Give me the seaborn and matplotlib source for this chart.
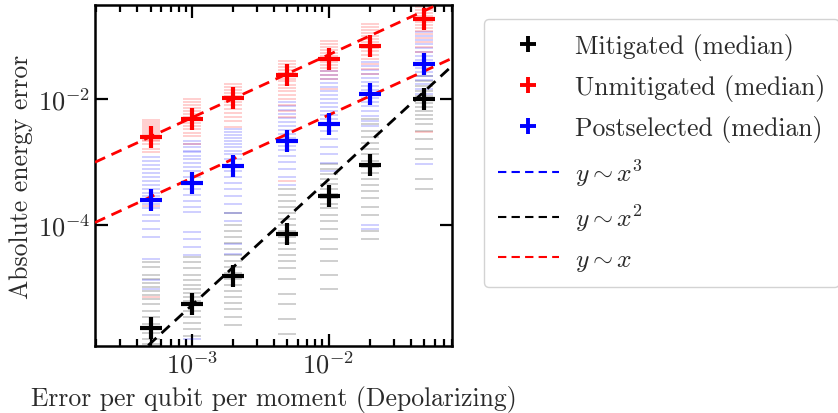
import numpy as np
import pandas as pd
import matplotlib
matplotlib.use("Agg")
import matplotlib.pyplot as plt
import seaborn as sns
from matplotlib.ticker import NullLocator, LogLocator, FixedLocator

# ---------------- data ----------------
error_rates = [5e-4, 1e-3, 2e-3, 5e-3, 1e-2, 2e-2, 5e-2]

mitigated_median = [2.3e-6, 5.4e-6, 1.5e-5, 7.1e-5, 2.8e-4, 8.7e-4, 1.0e-2]
unmitigated_median = [2.5e-3, 4.7e-3, 1.02e-2, 2.4e-2, 4.3e-2, 6.9e-2, 1.83e-1]
postselected_median = [2.47e-4, 4.5e-4, 8.4e-4, 2.17e-3, 4.0e-3, 1.17e-2, 3.52e-2]

mitigated_samples = [
    [2.5e-5, 2.1e-5, 1.6e-5, 1.36e-5, 1.18e-5, 1.0e-5, 8.8e-6, 7.6e-6, 6.5e-6,
     5.4e-6, 4.2e-6, 3.4e-6, 2.6e-6, 1.9e-6, 1.5e-6, 1.25e-6],
    [3.1e-5, 2.5e-5, 2.0e-5, 1.6e-5, 1.3e-5, 1.1e-5, 9.4e-6, 8.1e-6, 7.0e-6,
     6.1e-6, 5.2e-6, 4.2e-6, 3.4e-6, 2.7e-6, 2.2e-6, 1.7e-6],
    [1.5e-4, 1.0e-4, 7.9e-5, 6.3e-5, 5.0e-5, 4.1e-5, 3.3e-5, 2.6e-5, 2.1e-5,
     1.7e-5, 1.36e-5, 1.1e-5, 8.8e-6, 7.0e-6, 5.6e-6, 4.5e-6, 3.4e-6, 2.5e-6],
    [3.7e-4, 3.0e-4, 2.4e-4, 1.9e-4, 1.5e-4, 1.23e-4, 9.8e-5, 7.9e-5, 6.3e-5,
     5.1e-5, 4.1e-5, 3.3e-5, 2.6e-5, 2.0e-5, 1.36e-5, 7.9e-6, 5.4e-6, 3.1e-6, 1.8e-6],
    [9.3e-4, 7.7e-4, 6.4e-4, 5.3e-4, 4.4e-4, 3.7e-4, 3.1e-4, 2.6e-4, 2.1e-4,
     1.8e-4, 1.4e-4, 1.15e-4, 8.5e-5, 5.9e-5, 4.1e-5, 2.6e-5, 1.6e-5, 9.4e-6],
    [4.8e-3, 3.9e-3, 3.1e-3, 2.5e-3, 2.0e-3, 1.6e-3, 1.3e-3, 1.03e-3, 8.3e-4,
     6.6e-4, 5.3e-4, 4.3e-4, 3.4e-4, 2.6e-4, 1.9e-4, 1.4e-4, 7.9e-5, 5.9e-5],
    [2.3e-2, 1.9e-2, 1.6e-2, 1.34e-2, 1.12e-2, 1.0e-2, 8.6e-3, 7.4e-3, 6.4e-3,
     5.5e-3, 4.8e-3, 4.0e-3, 3.1e-3, 2.3e-3, 1.6e-3, 1.1e-3, 5.3e-4, 3.7e-4],
]

unmitigated_samples = [
    [4.6e-3, 4.3e-3, 4.0e-3, 3.7e-3, 3.4e-3, 3.2e-3, 3.0e-3, 2.8e-3, 2.6e-3,
     2.4e-3, 2.2e-3, 2.1e-3, 1.9e-3, 1.6e-3, 1.4e-3, 2.0e-4, 7.0e-6],
    [1.0e-2, 9.0e-3, 8.0e-3, 7.2e-3, 6.4e-3, 5.8e-3, 5.2e-3, 4.6e-3, 4.1e-3,
     3.7e-3, 3.3e-3, 2.9e-3, 2.6e-3, 1.9e-3],
    [1.73e-2, 1.55e-2, 1.39e-2, 1.25e-2, 1.12e-2, 1.0e-2, 9.0e-3, 8.0e-3, 6.9e-3,
     6.0e-3, 5.2e-3, 4.5e-3, 3.6e-3],
    [4.0e-2, 3.6e-2, 3.2e-2, 2.9e-2, 2.6e-2, 2.3e-2, 2.1e-2, 1.9e-2, 1.67e-2,
     1.5e-2, 1.34e-2, 1.16e-2, 1.0e-2, 8.0e-3, 6.4e-3, 5.2e-3, 5.0e-4],
    [8.4e-2, 7.5e-2, 6.7e-2, 6.0e-2, 5.4e-2, 4.8e-2, 4.3e-2, 3.9e-2, 3.5e-2,
     3.1e-2, 2.8e-2, 2.4e-2, 2.1e-2, 1.44e-2],
    [1.57e-1, 1.41e-1, 1.26e-1, 1.13e-1, 1.01e-1, 9.0e-2, 8.1e-2, 7.2e-2, 6.5e-2,
     5.8e-2, 5.0e-2, 4.3e-2, 3.6e-2, 3.0e-2, 2.5e-2],
    [2.93e-1, 2.62e-1, 2.34e-1, 2.09e-1, 1.88e-1, 1.68e-1, 1.5e-1, 1.35e-1, 1.2e-1,
     1.08e-1, 9.4e-2, 8.1e-2, 6.7e-2, 5.6e-2, 3.0e-3],
]

postselected_samples = [
    [1.2e-3, 1.03e-3, 8.9e-4, 7.7e-4, 6.7e-4, 5.8e-4, 5.0e-4, 4.3e-4, 3.7e-4,
     3.2e-4, 2.8e-4, 2.4e-4, 2.1e-4, 1.8e-4, 1.4e-4, 1.15e-4, 8.5e-5, 6.3e-5,
     2.8e-5, 1.3e-5, 9.4e-6],
    [2.1e-3, 1.9e-3, 1.7e-3, 1.5e-3, 1.4e-3, 1.24e-3, 1.1e-3, 9.6e-4, 8.3e-4,
     7.1e-4, 5.7e-4, 4.6e-4, 3.7e-4, 3.0e-4, 2.4e-4, 1.9e-4, 1.6e-4, 7.6e-5,
     5.9e-5, 4.4e-5, 3.3e-5, 1.5e-6],
    [3.3e-3, 3.0e-3, 2.7e-3, 2.4e-3, 2.1e-3, 1.9e-3, 1.7e-3, 1.5e-3, 1.3e-3,
     1.1e-3, 8.9e-4, 7.1e-4, 5.7e-4, 4.6e-4, 3.7e-4, 2.8e-4, 2.1e-4, 1.5e-4,
     1.15e-4, 4.9e-5, 3.4e-5],
    [9.0e-3, 7.7e-3, 6.7e-3, 5.8e-3, 5.0e-3, 4.3e-3, 3.7e-3, 3.2e-3, 2.8e-3,
     2.4e-3, 2.1e-3, 1.8e-3, 1.54e-3, 1.24e-3, 1.0e-3, 7.7e-4, 5.7e-4, 4.3e-4],
    [2.8e-2, 2.4e-2, 2.1e-2, 1.8e-2, 1.55e-2, 1.34e-2, 1.16e-2, 1.0e-2, 8.6e-3,
     7.4e-3, 6.4e-3, 5.5e-3, 4.8e-3, 3.9e-3, 3.1e-3, 2.3e-3, 1.7e-3, 1.3e-3,
     9.6e-4, 7.1e-4],
    [3.9e-2, 3.35e-2, 2.9e-2, 2.5e-2, 2.16e-2, 1.87e-2, 1.6e-2, 1.39e-2, 1.2e-2,
     1.04e-2, 9.0e-3, 7.7e-3, 6.4e-3, 5.4e-3, 4.5e-3, 3.7e-3, 1.0e-4, 8.5e-5],
    [1.17e-1, 1.01e-1, 8.7e-2, 7.5e-2, 6.5e-2, 5.6e-2, 4.8e-2, 4.2e-2, 3.6e-2,
     3.1e-2, 2.7e-2, 2.3e-2, 2.0e-2, 1.73e-2, 1.44e-2, 1.2e-2, 9.2e-4],
]

# reference scaling lines coefficients
fit_upper_coef, fit_lower_coef, fit_quad_coef = 5.0, 0.55, 5.2

series_labels = ["Mitigated (median)", "Unmitigated (median)", "Postselected (median)"]
line_labels = [r"$y \sim x^3$", r"$y \sim x^2$", r"$y \sim x$"]

xlim = (1.96e-4, 8.0e-2)
ylim = (1.17e-6, 3.1e-1)

# ---------------- style ----------------
sns.set_style("ticks")
plt.rcParams["font.family"] = ["serif"]
plt.rcParams["font.serif"] = ["cmr10", "DejaVu Serif"]
plt.rcParams["mathtext.fontset"] = "cm"
plt.rcParams["axes.formatter.use_mathtext"] = True
plt.rcParams["axes.unicode_minus"] = False

TEXT = "#2a2a2a"

fig = plt.figure(figsize=(8.38, 4.14), dpi=100)
ax = fig.add_axes([0.1134, 0.1618, 0.4260, 0.8237])


def long_frame(samples):
    rows = []
    for xv, vals in zip(error_rates, samples):
        for v in vals:
            rows.append((xv, v))
    return pd.DataFrame(rows, columns=["x", "y"])


sample_sets = [
    (mitigated_samples, "black"),
    (postselected_samples, "blue"),
    (unmitigated_samples, "red"),
]
for samples, col in sample_sets:
    df = long_frame(samples)
    sns.scatterplot(data=df, x="x", y="y", marker="_", s=150, linewidth=1.2,
                    color=col, alpha=0.22, ax=ax, zorder=2, legend=False)

# scaling lines
xx = np.array(xlim)
fit_df = pd.DataFrame({
    "x": np.concatenate([xx, xx, xx]),
    "y": np.concatenate([fit_upper_coef * xx, fit_lower_coef * xx, fit_quad_coef * xx ** 2]),
    "g": ["u", "u", "l", "l", "q", "q"],
})
for g, col in [("u", "red"), ("l", "red"), ("q", "black")]:
    sub = fit_df[fit_df["g"] == g]
    sns.lineplot(data=sub, x="x", y="y", color=col, linestyle=(0, (4, 2.5)),
                 linewidth=2, ax=ax, zorder=3, legend=False)

# medians
handles = []
for med, col, lab in zip([mitigated_median, unmitigated_median, postselected_median],
                         ["black", "red", "blue"], series_labels):
    mdf = pd.DataFrame({"x": error_rates, "y": med})
    sns.scatterplot(data=mdf, x="x", y="y", marker="+", s=230, linewidth=3,
                    color=col, ax=ax, zorder=5, legend=False)
    handles.append(plt.Line2D([], [], color=col, marker="+", linestyle="none",
                              markersize=12, markeredgewidth=2.8, label=lab))
for col, lab in zip(["blue", "black", "red"], line_labels):
    handles.append(plt.Line2D([], [], color=col, linestyle=(0, (4, 2.5)),
                              linewidth=1.5, label=lab))

ax.set_xscale("log")
ax.set_yscale("log")
ax.set_xlim(*xlim)
ax.set_ylim(*ylim)

ax.yaxis.set_major_locator(FixedLocator([1e-6, 1e-4, 1e-2]))
ax.yaxis.set_minor_locator(NullLocator())
ax.xaxis.set_major_locator(LogLocator(base=10, numticks=10))
ax.xaxis.set_minor_locator(LogLocator(base=10, subs=np.arange(2, 10), numticks=20))

ax.tick_params(which="both", direction="in", top=True, right=True, colors="black",
               labelcolor=TEXT, labelsize=19, width=1.6)
ax.tick_params(which="major", length=9)
ax.tick_params(which="minor", length=5)
for sp in ax.spines.values():
    sp.set_linewidth(1.8)
    sp.set_color("black")

ax.set_xlabel("Error per qubit per moment (Depolarizing)", fontsize=18.5, color=TEXT, labelpad=5)
ax.set_ylabel("Absolute energy error", fontsize=18.5, color=TEXT, labelpad=3)

leg = fig.legend(handles=handles, loc="upper left", bbox_to_anchor=(0.577, 0.952),
                 fontsize=18.5, frameon=True, fancybox=True, handlelength=2.4,
                 handletextpad=0.6, labelspacing=0.55, borderpad=0.55,
                 borderaxespad=0.0)
leg.get_frame().set_edgecolor("#c8c8c8")
leg.get_frame().set_linewidth(1.0)
for t in leg.get_texts():
    t.set_color(TEXT)

fig.savefig("out.png", dpi=100)
